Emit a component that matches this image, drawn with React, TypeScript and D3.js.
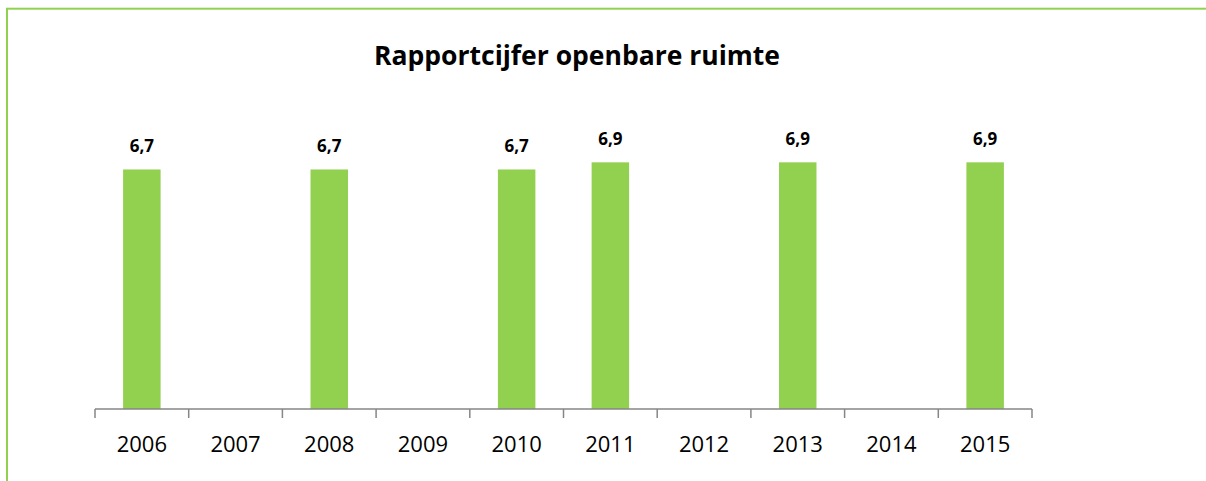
import { useEffect, useRef } from 'react';
import * as d3 from 'd3';

const years = ['2006', '2007', '2008', '2009', '2010', '2011', '2012', '2013', '2014', '2015'];
const scores: (number | null)[] = [6.7, null, 6.7, null, 6.7, 6.9, null, 6.9, null, 6.9];
const title = 'Rapportcijfer openbare ruimte';

const W = 1206;
const H = 481;

export default function App() {
  const ref = useRef<SVGSVGElement>(null);

  useEffect(() => {
    const svg = d3.select(ref.current);
    svg.selectAll('*').remove();

    const font = '"Open Sans", "Noto Sans", sans-serif';
    const green = '#92d050';

    // kader om de grafiek (loopt rechts en onder buiten beeld)
    svg.append('rect')
      .attr('x', 7)
      .attr('y', 8.7)
      .attr('width', W + 20)
      .attr('height', H + 20)
      .attr('fill', 'white')
      .attr('stroke', green)
      .attr('stroke-width', 2);

    svg.append('text')
      .attr('x', 577)
      .attr('y', 65)
      .attr('text-anchor', 'middle')
      .attr('font-family', font)
      .attr('font-weight', 'bold')
      .attr('font-size', 26.5)
      .attr('fill', '#000')
      .text(title);

    const left = 95, right = 1032, base = 409;

    // categorieen voor de as
    const xCat = d3.scaleBand().domain(years).range([left, right]);
    // smallere band voor de staven
    const x = d3.scaleBand().domain(years).range([left, right])
      .paddingInner(0.6).paddingOuter(0.3);
    const y = d3.scaleLinear().domain([0, 8]).range([base, 123]);

    const data = years.map((year, i) => ({ year, value: scores[i] }))
      .filter(d => d.value != null) as { year: string; value: number }[];

    const fmt = d3.formatLocale({ decimal: ',', thousands: '.', grouping: [3], currency: ['€', ''] }).format('.1f');

    svg.selectAll('.bar')
      .data(data)
      .enter().append('rect')
      .attr('class', 'bar')
      .attr('x', d => x(d.year)!)
      .attr('y', d => y(d.value))
      .attr('width', x.bandwidth())
      .attr('height', d => base - y(d.value))
      .attr('fill', green);

    svg.selectAll('.label')
      .data(data)
      .enter().append('text')
      .attr('class', 'label')
      .attr('x', d => x(d.year)! + x.bandwidth() / 2)
      .attr('y', d => y(d.value) - 17)
      .attr('text-anchor', 'middle')
      .attr('font-family', font)
      .attr('font-weight', 'bold')
      .attr('font-size', 17)
      .attr('fill', '#000')
      .text(d => fmt(d.value));

    // x-as met streepjes op de grenzen
    const axis = svg.append('g').attr('stroke', '#868686').attr('stroke-width', 1.5);
    axis.append('line')
      .attr('x1', left).attr('x2', right)
      .attr('y1', base).attr('y2', base);
    const edges = years.map(d => xCat(d)!).concat([right]);
    axis.selectAll('.tick')
      .data(edges)
      .enter().append('line')
      .attr('x1', d => d).attr('x2', d => d)
      .attr('y1', base).attr('y2', base + 9);

    svg.selectAll('.year')
      .data(years)
      .enter().append('text')
      .attr('class', 'year')
      .attr('x', d => xCat(d)! + xCat.bandwidth() / 2)
      .attr('y', 451.5)
      .attr('text-anchor', 'middle')
      .attr('font-family', font)
      .attr('font-size', 22)
      .attr('fill', '#000')
      .text(d => d);
  }, []);

  return (
    <svg
      ref={ref}
      width={W}
      height={H}
      style={{ position: 'absolute', left: 0, top: 0 }}
    />
  );
}
